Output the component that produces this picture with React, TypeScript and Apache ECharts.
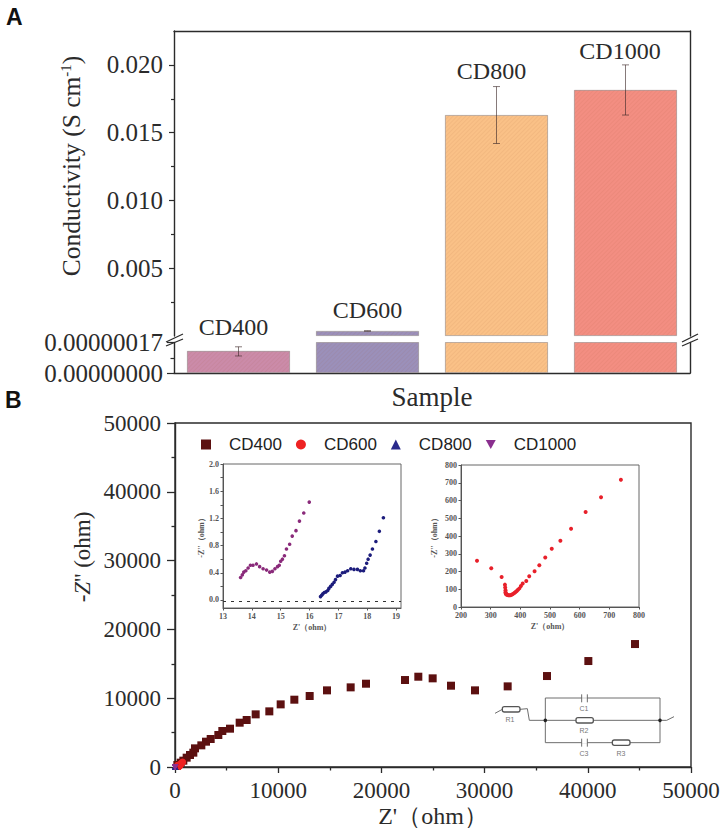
import React, { useEffect, useRef } from "react";
import * as echarts from "echarts";

const SERIF = '"Liberation Serif", "Times New Roman", serif';
const SANS = '"Liberation Sans", Arial, sans-serif';

const samples = ["CD400", "CD600", "CD800", "CD1000"];
const conductivity = [1.23e-7, 0.00037, 0.0163, 0.01815];
const barColors = ["#cb8ba9", "#9b90ba", "#fac187", "#f38e82"];
const errLowerUpperAxis = [null, 0.00036, 0.0142, 0.0163];
const errUpperUpperAxis = [null, 0.00038, 0.0184, 0.02];
const cd400ErrLow = 0.95e-7;
const cd400ErrHigh = 1.46e-7;
const labelHeights = [0.00066, 0.0019, 0.01956, 0.02103];
const labelShift = [-5, 0, -5, -5.5];

const cd400Points = [
  [226, 290], [550, 630], [807, 920], [1130, 1356], [1454, 1744], [1776, 2083], [1938, 2712],
  [2552, 3148], [3004, 3681], [3457, 4068], [4199, 4650], [4587, 5231], [5330, 5570], [6266, 6441],
  [6945, 6829], [7817, 7652], [9140, 8088], [10240, 9103], [11564, 9783], [13050, 10316],
  [14729, 11140], [17022, 11576], [18508, 12107], [22287, 12641], [23578, 13124], [24968, 12886],
  [26744, 11817], [29070, 11140], [32235, 11720], [36047, 13222], [40053, 15402], [44574, 17872],
];
const cd600Points = [
  [254, 260], [302, 218], [337, 169], [348, 126], [349, 110], [350, 94], [350, 83], [351, 78],
  [352, 72], [354, 70], [357, 68], [360, 66], [364, 66], [368, 67], [372, 70], [376, 74], [380, 79],
  [384, 84], [388, 90], [392, 97], [397, 105], [402, 118], [408, 132], [420, 147], [430, 173],
  [448, 201], [464, 235], [484, 279], [506, 328], [535, 373], [571, 441], [620, 535], [672, 618], [739, 717],
];
const cd800Points = [
  [16.38, 0.05], [16.42, 0.07], [16.46, 0.09], [16.51, 0.11], [16.57, 0.12], [16.63, 0.14], [16.67, 0.17],
  [16.73, 0.2], [16.79, 0.23], [16.85, 0.26], [16.9, 0.3], [16.97, 0.35], [17.06, 0.36], [17.14, 0.4],
  [17.23, 0.41], [17.32, 0.43], [17.43, 0.46], [17.54, 0.45], [17.66, 0.45], [17.76, 0.43], [17.87, 0.43],
  [17.92, 0.47], [17.98, 0.54], [18.03, 0.6], [18.1, 0.66], [18.18, 0.75], [18.3, 0.86], [18.42, 1.01], [18.56, 1.21],
];
const cd1000Points = [
  [13.61, 0.33], [13.67, 0.37], [13.72, 0.41], [13.79, 0.43], [13.87, 0.47], [13.95, 0.51], [14.04, 0.51],
  [14.16, 0.53], [14.27, 0.49], [14.39, 0.46], [14.51, 0.44], [14.62, 0.41], [14.71, 0.42], [14.8, 0.46],
  [14.89, 0.49], [14.95, 0.51], [15.0, 0.57], [15.06, 0.6], [15.13, 0.65], [15.2, 0.75], [15.31, 0.82],
  [15.4, 0.94], [15.53, 1.02], [15.65, 1.16], [15.8, 1.28], [15.99, 1.44],
];
const inset1XTicks = [13, 14, 15, 16, 17, 18, 19];
const inset1YTicks = [0, 0.4, 0.8, 1.2, 1.6, 2];
const inset1YMinor = [0, 0.2, 0.4, 0.6, 0.8, 1, 1.2, 1.4, 1.6, 1.8, 2];

const INK = "#2b2b2b";
const DOWN_TRIANGLE = "path://M0 0L10 0L5 9Z";

function errorBars(axisIndex: number, rows: number[][]) {
  return {
    type: "custom",
    xAxisIndex: axisIndex,
    yAxisIndex: axisIndex * 2,
    z: 5,
    silent: true,
    data: rows,
    renderItem: (_p: any, api: any) => {
      const x = api.value(0);
      const lo = api.coord([x, api.value(1)]);
      const hi = api.coord([x, api.value(2)]);
      const style = { stroke: "rgba(60,40,40,0.62)", lineWidth: 1, fill: "none" };
      const line = (a: number, b: number, c: number, d: number) => ({
        type: "line",
        shape: { x1: a, y1: b, x2: c, y2: d },
        style,
      });
      return {
        type: "group",
        children: [
          line(lo[0], lo[1], hi[0], hi[1]),
          line(lo[0] - 3.5, lo[1], lo[0] + 3.5, lo[1]),
          line(hi[0] - 3.5, hi[1], hi[0] + 3.5, hi[1]),
        ],
      };
    },
  };
}

function frameAxis(gridIndex: number) {
  return {
    type: "value",
    gridIndex,
    position: "right",
    axisLine: { show: true, lineStyle: { color: INK, width: 1.4 } },
    axisTick: { show: false },
    axisLabel: { show: false },
    splitLine: { show: false },
  };
}

const hatch = {
  symbol: "rect",
  symbolSize: 1,
  dashArrayX: [1, 0],
  dashArrayY: [1, 2],
  rotation: -Math.PI / 4,
  color: "rgba(150,70,40,0.08)",
};

function barData(values: (number | null)[]) {
  return values.map((v, i) => ({
    value: v,
    itemStyle: { color: barColors[i], borderColor: "rgba(140,130,130,0.4)", borderWidth: 0.8, decal: hatch },
  }));
}

function wire(points: number[][]) {
  return {
    type: "polyline",
    shape: { points: points.map(([x, y]) => [440 + x / 3, 640 + y / 3]) },
    style: { stroke: "#6e6e6e", lineWidth: 1, fill: "none" },
    silent: true,
  };
}
function resistor(x1: number, x2: number, yc: number) {
  return {
    type: "rect",
    shape: { x: 440 + x1 / 3, y: 640 + (yc - 8) / 3, width: (x2 - x1) / 3, height: 16 / 3, r: 2 },
    style: { fill: "#fff", stroke: "#555", lineWidth: 1.3 },
    z: 20,
    silent: true,
  };
}
function node(x: number, y: number) {
  return {
    type: "circle",
    shape: { cx: 440 + x / 3, cy: 640 + y / 3, r: 1.8 },
    style: { fill: "#222" },
    silent: true,
  };
}
function tag(text: string, x: number, y: number) {
  return {
    type: "text",
    x: 440 + x / 3,
    y: 640 + y / 3,
    style: { text, fill: "#777", font: `7px ${SANS}`, align: "center", verticalAlign: "middle" },
    silent: true,
  };
}
function plateGap(x1: number, x2: number, y: number) {
  return {
    type: "rect",
    shape: { x: 440 + x1 / 3, y: 640 + (y - 2) / 3, width: (x2 - x1) / 3, height: 4 / 3 },
    style: { fill: "#fff" },
    z: 19,
    silent: true,
  };
}

const circuit = [
  wire([[165, 220], [187, 208], [240, 208], [262, 206], [268, 241], [316, 241]]),
  wire([[316, 241], [316, 174], [660, 174], [660, 241]]),
  wire([[316, 241], [680, 241], [702, 230]]),
  wire([[316, 241], [316, 308], [660, 308], [660, 241]]),
  plateGap(426, 441, 174),
  plateGap(426, 441, 308),
  { ...wire([[425, 163], [425, 187]]), z: 20 },
  { ...wire([[442, 163], [442, 187]]), z: 20 },
  { ...wire([[425, 296], [425, 320]]), z: 20 },
  { ...wire([[442, 296], [442, 320]]), z: 20 },
  resistor(187, 240, 208),
  resistor(408, 460, 241),
  resistor(517, 570, 308),
  node(316, 241),
  node(660, 241),
  tag("R1", 210, 238),
  tag("C1", 432, 205),
  tag("R2", 432, 272),
  tag("C3", 432, 340),
  tag("R3", 543, 340),
];

function slash(x1: number, y1: number, x2: number, y2: number) {
  return {
    type: "line",
    shape: { x1, y1, x2, y2 },
    style: { stroke: INK, lineWidth: 1.3 },
    silent: true,
  };
}

const insetAxisFont = { fontFamily: SERIF, fontSize: 8, color: "#555", fontWeight: "bold" as const };

function insetValueAxis(extra: any) {
  return {
    type: "value",
    axisLine: { show: true, onZero: false, lineStyle: { color: "#555", width: 1 } },
    axisTick: { show: true, length: 2.5, lineStyle: { color: "#555" } },
    axisLabel: { ...insetAxisFont, margin: 4 },
    splitLine: { show: false },
    nameLocation: "middle",
    nameTextStyle: { ...insetAxisFont, fontSize: 8 },
    ...extra,
  };
}

const plain = (v: number) => String(v);

const option: any = {
  animation: false,
  backgroundColor: "#ffffff",
  grid: [
    { left: 174, width: 516, top: 31, height: 305 },
    { left: 174, width: 516, top: 342.5, height: 30.5 },
    { left: 175, width: 516, top: 423, height: 344, show: true, borderColor: INK, borderWidth: 1.4, backgroundColor: "transparent" },
    { left: 223, width: 178, top: 464, height: 144, show: true, borderColor: "#666", borderWidth: 1, backgroundColor: "transparent" },
    { left: 461, width: 178, top: 465, height: 142, show: true, borderColor: "#666", borderWidth: 1, backgroundColor: "transparent" },
  ],
  xAxis: [
    {
      type: "category", gridIndex: 0, position: "top", data: samples,
      axisLine: { show: true, onZero: false, lineStyle: { color: INK, width: 1.4 } },
      axisTick: { show: false }, axisLabel: { show: false },
    },
    {
      type: "category", gridIndex: 1, position: "bottom", data: samples,
      axisLine: { show: true, lineStyle: { color: INK, width: 1.4 } },
      axisTick: { show: false }, axisLabel: { show: false },
      name: "Sample", nameLocation: "middle", nameGap: 10,
      nameTextStyle: { fontFamily: SERIF, fontSize: 27, color: INK, verticalAlign: "top" },
    },
    {
      type: "value", gridIndex: 2, min: 0, max: 50000, interval: 10000,
      axisLine: { show: true, onZero: false, lineStyle: { color: INK, width: 1.4 } },
      axisTick: { show: true, length: 6, inside: false, lineStyle: { color: INK, width: 1.3 } },
      minorTick: { show: true, splitNumber: 2, length: 3.5, lineStyle: { color: INK, width: 1.3 } },
      axisLabel: { fontFamily: SERIF, fontSize: 23, color: INK, margin: 12, formatter: plain },
      splitLine: { show: false },
      name: "Z'（ohm）", nameLocation: "middle", nameGap: 37,
      nameTextStyle: { fontFamily: SERIF, fontSize: 24, color: INK },
    },
    insetValueAxis({
      gridIndex: 3, min: 13, max: 19.17,
      axisLabel: { ...insetAxisFont, margin: 4, customValues: inset1XTicks },
      axisTick: { show: true, length: 2.5, lineStyle: { color: "#555" }, customValues: inset1XTicks },
      name: "Z'（ohm）", nameGap: 15,
    }),
    insetValueAxis({
      gridIndex: 4, min: 200, max: 800, interval: 100,
      name: "Z'（ohm）", nameGap: 15,
    }),
  ],
  yAxis: [
    {
      type: "value", gridIndex: 0, min: 0, max: 0.0225, interval: 0.005,
      axisLine: { show: true, onZero: false, lineStyle: { color: INK, width: 1.4 } },
      axisTick: { show: true, length: 5, inside: false, lineStyle: { color: INK, width: 1.2 },
        customValues: [0.005, 0.01, 0.015, 0.02] },
      minorTick: { show: true, splitNumber: 2, length: 3, lineStyle: { color: INK, width: 1.2 } },
      axisLabel: {
        fontFamily: SERIF, fontSize: 25, color: INK, margin: 11,
        customValues: [0.005, 0.01, 0.015, 0.02],
        formatter: (v: number) => v.toFixed(3),
      },
      splitLine: { show: false },
    },
    frameAxis(0),
    {
      type: "value", gridIndex: 1, min: 0, max: 1.7e-7, interval: 1.7e-7,
      axisLine: { show: true, onZero: false, lineStyle: { color: INK, width: 1.4 } },
      axisTick: { show: true, length: 7, inside: false, lineStyle: { color: INK, width: 1.2 } },
      minorTick: { show: true, splitNumber: 2, length: 3.5, lineStyle: { color: INK, width: 1.2 } },
      axisLabel: {
        fontFamily: SERIF, fontSize: 25, color: INK, margin: 11,
        formatter: (v: number) => v.toFixed(8),
      },
      splitLine: { show: false },
    },
    frameAxis(1),
    {
      type: "value", gridIndex: 2, min: 0, max: 50000, interval: 10000,
      axisLine: { show: true, onZero: false, lineStyle: { color: INK, width: 1.4 } },
      axisTick: { show: true, length: 8, inside: false, lineStyle: { color: INK, width: 1.3 } },
      minorTick: { show: true, splitNumber: 2, length: 3.5, lineStyle: { color: INK, width: 1.3 } },
      axisLabel: { fontFamily: SERIF, fontSize: 23, color: INK, margin: 14, formatter: plain },
      splitLine: { show: false },
    },
    insetValueAxis({
      gridIndex: 3, min: -0.118, max: 2,
      axisLabel: {
        ...insetAxisFont, margin: 4, customValues: inset1YTicks,
        formatter: (v: number) => v.toFixed(1),
      },
      axisTick: { show: true, length: 2.5, lineStyle: { color: "#555" }, customValues: inset1YMinor },
      name: "-Z''（ohm）", nameGap: 17,
    }),
    insetValueAxis({
      gridIndex: 4, min: 0, max: 800, interval: 100,
      name: "-Z''（ohm）", nameGap: 23,
    }),
  ],
  legend: {
    left: 196, top: 431, itemWidth: 10, itemHeight: 10, itemGap: 14,
    data: [
      { name: "CD400", icon: "rect" },
      { name: "CD600", icon: "circle" },
      { name: "CD800", icon: "triangle" },
      { name: "CD1000", icon: DOWN_TRIANGLE },
    ],
    textStyle: { fontFamily: SANS, fontSize: 17, color: "#222", padding: [0, 0, 0, 13] },
  },
  series: [
    {
      type: "bar", xAxisIndex: 0, yAxisIndex: 0, barWidth: 103, silent: true,
      data: barData(conductivity.map((v) => (v < 1e-6 ? null : v))),
    },
    {
      type: "bar", xAxisIndex: 1, yAxisIndex: 2, barWidth: 103, silent: true,
      data: barData(conductivity),
    },
    errorBars(0, [1, 2, 3].map((i) => [i, errLowerUpperAxis[i] as number, errUpperUpperAxis[i] as number])),
    errorBars(1, [[0, cd400ErrLow, cd400ErrHigh]]),
    {
      type: "scatter", xAxisIndex: 0, yAxisIndex: 0, symbolSize: 1, silent: true, z: 6,
      itemStyle: { color: "transparent", opacity: 1 },
      data: samples.map((s, i) => ({
        name: s,
        value: [i, labelHeights[i]],
        label: { offset: [labelShift[i], 0] },
      })),
      label: {
        show: true, position: "inside",
        formatter: (p: any) => p.name,
        fontFamily: SERIF, fontSize: 24, color: INK,
      },
    },
    {
      name: "CD400", type: "scatter", xAxisIndex: 2, yAxisIndex: 4, symbol: "rect", symbolSize: 8,
      itemStyle: { color: "#5c1010", opacity: 1 }, data: cd400Points,
    },
    {
      name: "CD600", type: "scatter", xAxisIndex: 2, yAxisIndex: 4, symbol: "circle", symbolSize: 7,
      itemStyle: { color: "#ee2222", opacity: 1 }, data: cd600Points,
    },
    {
      name: "CD800", type: "scatter", xAxisIndex: 2, yAxisIndex: 4, symbol: "triangle", symbolSize: 6,
      itemStyle: { color: "#2a2a8c", opacity: 1 }, data: cd800Points,
    },
    {
      name: "CD1000", type: "scatter", xAxisIndex: 2, yAxisIndex: 4, symbol: DOWN_TRIANGLE, symbolSize: 6,
      itemStyle: { color: "#8a2f8f", opacity: 1 }, data: cd1000Points,
    },
    {
      name: "inset CD800", type: "scatter", xAxisIndex: 3, yAxisIndex: 5, symbol: "circle", symbolSize: 3.6,
      itemStyle: { color: "#1c1c7c", opacity: 1 }, data: cd800Points,
      markLine: {
        silent: true, symbol: "none", label: { show: false },
        lineStyle: { color: "#333", type: [3, 5], width: 1 },
        data: [{ yAxis: -0.02 }],
      },
    },
    {
      name: "inset CD1000", type: "scatter", xAxisIndex: 3, yAxisIndex: 5, symbol: "circle", symbolSize: 3.6,
      itemStyle: { color: "#8a2a7a", opacity: 1 }, data: cd1000Points,
    },
    {
      name: "inset CD600", type: "scatter", xAxisIndex: 4, yAxisIndex: 6, symbol: "circle", symbolSize: 4,
      itemStyle: { color: "#e8202a", opacity: 1 }, data: cd600Points,
    },
  ],
  graphic: [
    { type: "text", x: 6, y: 5, silent: true, style: { text: "A", font: `bold 23px ${SANS}`, fill: "#111" } },
    { type: "text", x: 5, y: 388, silent: true, style: { text: "B", font: `bold 23px ${SANS}`, fill: "#111" } },
    {
      type: "text", x: 71, y: 166, rotation: Math.PI / 2, silent: true,
      style: {
        text: "{b|Conductivity (S cm}{s|-1}{b|)}",
        align: "center", verticalAlign: "middle",
        rich: {
          b: { font: `25.5px ${SERIF}`, fill: INK },
          s: { font: `15px ${SERIF}`, fill: INK, verticalAlign: "top", padding: [0, 0, 10, 0] },
        },
      },
    },
    {
      type: "text", x: 82, y: 557, rotation: Math.PI / 2, silent: true,
      style: {
        text: "{i|-Z}{b|'' (ohm)}",
        align: "center", verticalAlign: "middle",
        rich: {
          i: { font: `italic 23px ${SERIF}`, fill: INK },
          b: { font: `23px ${SERIF}`, fill: INK },
        },
      },
    },
    slash(166, 342, 183, 334),
    slash(166, 346, 183, 339),
    slash(682, 342, 698, 334),
    slash(682, 346, 698, 339),
    { type: "group", silent: true, children: circuit },
  ],
};

export default function App() {
  const ref = useRef<HTMLDivElement>(null);
  useEffect(() => {
    const chart = echarts.init(ref.current as HTMLDivElement, undefined, { renderer: "svg" });
    chart.setOption(option);
    return () => chart.dispose();
  }, []);
  return <div ref={ref} style={{ position: "absolute", left: 0, top: 0, width: 728, height: 832 }} />;
}
